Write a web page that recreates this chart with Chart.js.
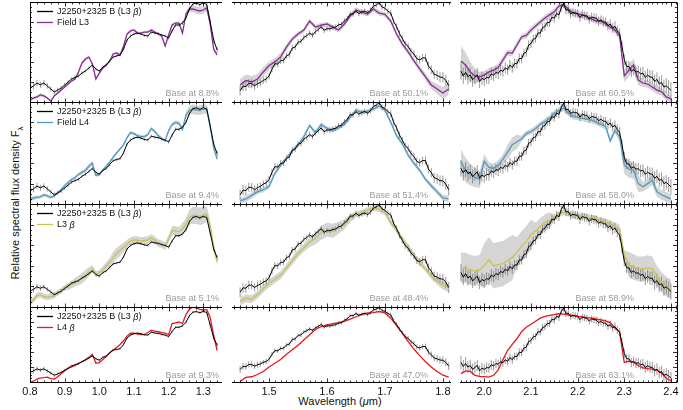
<!DOCTYPE html>
<html><head><meta charset="utf-8">
<script src="https://cdn.jsdelivr.net/npm/chart.js@4.4.1/dist/chart.umd.min.js"></script>
<style>
html,body{margin:0;padding:0;background:#fff;}
#wrap{position:relative;width:683px;height:410px;overflow:hidden;font-family:"Liberation Sans",Arial,sans-serif;}
canvas{position:absolute;}
.lab{position:absolute;white-space:nowrap;font-size:11px;color:#111;line-height:12px;}
</style></head><body>
<div id="wrap">
<div class="lab" style="left:17px;top:203px;transform:translate(-50%,-50%) rotate(-90deg);">Relative spectral flux density F<sub style="font-size:8px;line-height:8px;">λ</sub></div>
<div class="lab" style="left:340px;top:401px;transform:translate(-50%,-50%);">Wavelength (<i>μ</i>m)</div>
</div>
<script>
// ---------------- DATA ----------------
const objLabel = 'J2250+2325 B (L3 β)';
const compLabels = ['Field L3', 'Field L4', 'L3 β', 'L4 β'];

// "Base at" values (bottom of each panel, fraction of peak) per row, for J, H, K
const baseJ = [0.088, 0.094, 0.051, 0.093];
const baseH = [0.501, 0.514, 0.484, 0.470];
const baseK = [0.605, 0.580, 0.589, 0.631];
// top of each panel
const topJ = [1.0, 1.044, 1.12, 1.048];
const topH = [1.0, 1.0, 1.0, 1.0];
const topK = [1.0, 1.0, 1.0, 1.0];
// wavelength ranges of the three columns
const xRangeJ = [0.8, 1.354];
const xRangeH = [1.436, 1.814];
const xRangeK = [1.948, 2.413];

// J band
const waveJ = [0.80,0.81,0.82,0.83,0.84,0.85,0.86,0.87,0.88,0.89,
 0.90,0.91,0.92,0.93,0.94,0.95,0.96,0.97,0.98,0.99,
 1.00,1.01,1.02,1.03,1.04,1.05,1.06,1.07,1.08,1.09,
 1.10,1.11,1.12,1.13,1.14,1.15,1.16,1.17,1.18,1.19,
 1.20,1.21,1.22,1.23,1.24,1.25,1.26,1.27,1.28,1.29,
 1.30,1.31,1.32,1.33,1.34];
const fluxJ = [0.216,0.234,0.261,0.245,0.261,0.234,0.207,0.179,0.197,0.216,
 0.243,0.270,0.298,0.312,0.325,0.352,0.371,0.398,0.425,0.389,
 0.371,0.407,0.425,0.462,0.498,0.508,0.517,0.571,0.653,0.690,
 0.708,0.716,0.708,0.695,0.690,0.726,0.717,0.712,0.699,0.690,
 0.672,0.736,0.790,0.790,0.808,0.854,0.936,0.982,0.990,0.975,
 0.992,0.978,0.818,0.653,0.562];
const errJ = [0.030,0.032,0.030,0.028,0.026,0.024,0.022,0.022,0.020,0.020,
 0.018,0.018,0.016,0.016,0.016,0.015,0.015,0.015,0.015,0.015,
 0.014,0.014,0.014,0.014,0.014,0.014,0.014,0.014,0.014,0.014,
 0.014,0.014,0.014,0.014,0.014,0.014,0.014,0.014,0.014,0.014,
 0.015,0.015,0.016,0.016,0.016,0.018,0.018,0.018,0.018,0.018,
 0.018,0.020,0.022,0.024,0.026];
const fieldL3J = [0.106,0.124,0.134,0.152,0.143,0.124,0.097,0.143,0.170,0.197,
 0.225,0.252,0.280,0.298,0.362,0.444,0.480,0.498,0.435,0.298,
 0.352,0.398,0.425,0.462,0.526,0.535,0.517,0.599,0.708,0.736,
 0.745,0.717,0.717,0.726,0.726,0.745,0.726,0.708,0.690,0.599,
 0.699,0.790,0.808,0.808,0.717,0.891,0.936,0.936,0.927,0.918,
 0.927,0.945,0.799,0.571,0.517];
const fieldL4J = [0.132,0.151,0.156,0.161,0.180,0.170,0.156,0.170,0.199,0.227,
 0.265,0.294,0.322,0.341,0.370,0.389,0.408,0.446,0.474,0.360,
 0.370,0.408,0.446,0.484,0.531,0.569,0.607,0.645,0.712,0.759,
 0.750,0.731,0.721,0.721,0.740,0.797,0.769,0.731,0.702,0.683,
 0.778,0.835,0.854,0.845,0.788,0.921,0.968,0.978,0.968,0.968,
 0.978,0.978,0.816,0.617,0.512];
const l3betaJ = [0.094,0.126,0.169,0.179,0.158,0.153,0.158,0.169,0.201,0.222,
 0.249,0.265,0.286,0.308,0.329,0.350,0.382,0.414,0.447,0.393,
 0.404,0.436,0.479,0.511,0.564,0.607,0.639,0.671,0.703,0.735,
 0.746,0.746,0.735,0.741,0.746,0.767,0.746,0.714,0.703,0.682,
 0.757,0.842,0.842,0.831,0.863,0.906,0.981,1.002,1.002,0.992,
 1.002,1.013,0.885,0.671,0.521];
const l4betaJ = [0.093,0.103,0.131,0.146,0.150,0.155,0.136,0.131,0.160,0.198,
 0.236,0.265,0.284,0.303,0.332,0.351,0.380,0.408,0.446,0.332,
 0.341,0.380,0.418,0.465,0.504,0.532,0.571,0.618,0.676,0.714,
 0.714,0.704,0.695,0.695,0.723,0.752,0.742,0.733,0.723,0.714,
 0.695,0.838,0.847,0.857,0.838,0.953,1.019,1.048,1.038,1.019,
 1.010,1.015,0.914,0.685,0.494];
// half-widths of the grey template ranges
const spreadL3J = [0.015,0.015,0.015,0.015,0.015,0.012,0.012,0.012,0.012,0.012,
 0.012,0.012,0.012,0.012,0.015,0.015,0.015,0.015,0.015,0.012,
 0.012,0.012,0.012,0.012,0.012,0.012,0.012,0.012,0.012,0.012,
 0.012,0.012,0.012,0.012,0.012,0.012,0.012,0.012,0.012,0.015,
 0.015,0.015,0.015,0.015,0.020,0.025,0.030,0.030,0.035,0.035,
 0.035,0.030,0.025,0.020,0.015];
const spreadL4J = [0.020,0.020,0.018,0.015,0.015,0.015,0.015,0.015,0.015,0.015,
 0.015,0.015,0.015,0.015,0.015,0.020,0.020,0.020,0.020,0.015,
 0.015,0.015,0.015,0.015,0.015,0.015,0.015,0.015,0.015,0.015,
 0.015,0.015,0.015,0.015,0.015,0.015,0.015,0.015,0.015,0.015,
 0.015,0.015,0.020,0.020,0.025,0.030,0.040,0.045,0.045,0.045,
 0.045,0.040,0.030,0.020,0.020];
const spreadL3bJ = [0.030,0.030,0.030,0.030,0.030,0.030,0.030,0.030,0.030,0.030,
 0.030,0.035,0.040,0.045,0.050,0.055,0.055,0.050,0.040,0.030,
 0.030,0.035,0.040,0.050,0.060,0.060,0.055,0.050,0.045,0.040,
 0.040,0.040,0.040,0.040,0.040,0.040,0.040,0.040,0.040,0.040,
 0.040,0.050,0.050,0.050,0.060,0.070,0.080,0.090,0.090,0.090,
 0.090,0.080,0.060,0.050,0.040];

// H band
const waveHfine = [1.450,1.455,1.460,1.465,1.470,1.475,1.480,1.485,1.490,1.495,
 1.500,1.505,1.510,1.515,1.520,1.525,1.530,1.535,1.540,1.545,
 1.550,1.555,1.560,1.565,1.570,1.575,1.580,1.585,1.590,1.595,
 1.600,1.605,1.610,1.615,1.620,1.625,1.630,1.635,1.640,1.645,
 1.650,1.655,1.660,1.665,1.670,1.675,1.680,1.685,1.690,1.695,
 1.700,1.705,1.710,1.715,1.720,1.725,1.730,1.735,1.740,1.745,
 1.750,1.755,1.760,1.765,1.770,1.775,1.780,1.785,1.790,1.795,
 1.800,1.805,1.810];
const fluxH = [0.558,0.580,0.578,0.594,0.593,0.582,0.592,0.598,0.609,0.615,
 0.631,0.665,0.692,0.690,0.707,0.709,0.731,0.738,0.770,0.775,
 0.799,0.803,0.823,0.832,0.845,0.835,0.852,0.863,0.877,0.858,
 0.867,0.866,0.872,0.875,0.886,0.889,0.906,0.917,0.940,0.939,
 0.954,0.942,0.950,0.955,0.947,0.959,0.979,0.985,0.997,0.975,
 0.969,0.954,0.945,0.903,0.877,0.843,0.818,0.791,0.779,0.754,
 0.741,0.717,0.711,0.721,0.721,0.681,0.663,0.639,0.634,0.625,
 0.624,0.609,0.582];
const errH = [0.025,0.024,0.023,0.022,0.021,0.020,0.020,0.019,0.018,0.018,
 0.017,0.017,0.016,0.016,0.016,0.015,0.015,0.015,0.015,0.014,
 0.014,0.014,0.014,0.014,0.014,0.013,0.013,0.013,0.013,0.013,
 0.013,0.013,0.013,0.013,0.013,0.013,0.013,0.013,0.013,0.013,
 0.013,0.013,0.013,0.013,0.013,0.013,0.013,0.013,0.014,0.014,
 0.014,0.014,0.015,0.015,0.015,0.016,0.016,0.016,0.017,0.017,
 0.018,0.018,0.019,0.019,0.020,0.021,0.022,0.023,0.024,0.025,
 0.026,0.027,0.028];
const waveH = [1.45,1.46,1.47,1.48,1.49,1.50,1.51,1.52,1.53,1.54,
 1.55,1.56,1.57,1.58,1.59,1.60,1.61,1.62,1.63,1.64,
 1.65,1.66,1.67,1.68,1.69,1.70,1.71,1.72,1.73,1.74,
 1.75,1.76,1.77,1.78,1.79,1.80,1.81];
const fieldL3H = [0.586,0.608,0.601,0.616,0.651,0.683,0.701,0.726,0.775,0.815,
 0.840,0.860,0.905,0.875,0.885,0.890,0.875,0.860,0.890,0.930,
 0.960,0.950,0.940,0.965,0.945,0.938,0.905,0.840,0.790,0.751,
 0.706,0.666,0.626,0.586,0.566,0.546,0.566];
const fieldL4H = [0.529,0.538,0.555,0.572,0.582,0.597,0.660,0.699,0.733,0.767,
 0.796,0.835,0.888,0.854,0.893,0.874,0.864,0.878,0.893,0.927,
 0.961,0.951,0.956,0.966,0.981,0.961,0.903,0.840,0.801,0.747,
 0.708,0.674,0.631,0.601,0.572,0.543,0.538];
const l3betaH = [0.512,0.528,0.523,0.546,0.577,0.603,0.623,0.644,0.680,0.716,
 0.752,0.781,0.809,0.827,0.856,0.871,0.866,0.881,0.897,0.928,
 0.948,0.956,0.969,0.982,0.974,0.959,0.907,0.871,0.825,0.783,
 0.742,0.706,0.675,0.639,0.616,0.592,0.577];
const l4betaH = [0.475,0.502,0.507,0.523,0.544,0.576,0.603,0.629,0.666,0.698,
 0.730,0.767,0.804,0.841,0.862,0.873,0.883,0.889,0.899,0.915,
 0.931,0.947,0.958,0.960,0.968,0.958,0.921,0.868,0.815,0.756,
 0.703,0.656,0.613,0.576,0.544,0.518,0.504];
const spreadL3H = [0.030,0.030,0.030,0.025,0.025,0.020,0.020,0.020,0.015,0.012,
 0.012,0.012,0.012,0.012,0.012,0.012,0.012,0.012,0.012,0.012,
 0.012,0.012,0.012,0.012,0.012,0.012,0.012,0.012,0.012,0.012,
 0.012,0.015,0.018,0.020,0.025,0.030,0.030];
const spreadL4H = [0.015,0.015,0.015,0.012,0.012,0.012,0.010,0.010,0.010,0.010,
 0.010,0.010,0.010,0.010,0.010,0.010,0.010,0.010,0.010,0.010,
 0.010,0.010,0.010,0.010,0.010,0.010,0.010,0.010,0.010,0.010,
 0.010,0.010,0.010,0.012,0.012,0.015,0.015];
const spreadL3bH = [0.020,0.020,0.020,0.020,0.020,0.020,0.020,0.020,0.020,0.020,
 0.020,0.020,0.025,0.030,0.035,0.035,0.035,0.030,0.025,0.020,
 0.015,0.015,0.015,0.015,0.015,0.015,0.015,0.015,0.015,0.015,
 0.015,0.015,0.015,0.015,0.020,0.020,0.020];

// K band
const waveKfine = [1.950,1.955,1.960,1.965,1.970,1.975,1.980,1.985,1.990,1.995,
 2.000,2.005,2.010,2.015,2.020,2.025,2.030,2.035,2.040,2.045,
 2.050,2.055,2.060,2.065,2.070,2.075,2.080,2.085,2.090,2.095,
 2.100,2.105,2.110,2.115,2.120,2.125,2.130,2.135,2.140,2.145,
 2.150,2.155,2.160,2.165,2.170,2.175,2.180,2.185,2.190,2.195,
 2.200,2.205,2.210,2.215,2.220,2.225,2.230,2.235,2.240,2.245,
 2.250,2.255,2.260,2.265,2.270,2.275,2.280,2.285,2.290,2.295,
 2.300,2.305,2.310,2.315,2.320,2.325,2.330,2.335,2.340,2.345,
 2.350,2.355,2.360,2.365,2.370,2.375,2.380,2.385,2.390,2.395,
 2.400];
const fluxK = [0.727,0.708,0.722,0.705,0.712,0.693,0.703,0.712,0.686,0.699,
 0.693,0.702,0.700,0.716,0.710,0.722,0.718,0.731,0.726,0.740,
 0.733,0.751,0.741,0.757,0.756,0.777,0.776,0.798,0.802,0.830,
 0.835,0.853,0.856,0.878,0.877,0.899,0.903,0.919,0.919,0.940,
 0.936,0.955,0.949,0.978,0.995,0.968,0.970,0.953,0.959,0.956,
 0.955,0.938,0.950,0.946,0.945,0.931,0.941,0.938,0.936,0.923,
 0.929,0.921,0.921,0.906,0.913,0.897,0.904,0.887,0.876,0.826,
 0.772,0.746,0.745,0.727,0.733,0.724,0.725,0.716,0.719,0.702,
 0.711,0.704,0.703,0.686,0.694,0.677,0.682,0.664,0.669,0.660,
 0.651];
const errK = [0.034,0.032,0.031,0.030,0.029,0.028,0.028,0.027,0.026,0.026,
 0.025,0.025,0.024,0.024,0.023,0.023,0.022,0.022,0.021,0.021,
 0.020,0.020,0.020,0.019,0.019,0.019,0.018,0.018,0.018,0.018,
 0.017,0.017,0.017,0.017,0.017,0.017,0.017,0.017,0.017,0.017,
 0.017,0.017,0.017,0.017,0.017,0.017,0.017,0.017,0.017,0.017,
 0.017,0.017,0.017,0.017,0.017,0.017,0.017,0.017,0.018,0.018,
 0.018,0.018,0.018,0.019,0.019,0.019,0.020,0.020,0.020,0.021,
 0.021,0.022,0.022,0.023,0.023,0.024,0.024,0.025,0.025,0.026,
 0.026,0.027,0.027,0.028,0.028,0.029,0.029,0.030,0.030,0.031,
 0.032];
const waveK = [1.95,1.96,1.97,1.98,1.99,2.00,2.01,2.02,2.03,2.04,
 2.05,2.06,2.07,2.08,2.09,2.10,2.11,2.12,2.13,2.14,
 2.15,2.16,2.17,2.18,2.19,2.20,2.21,2.22,2.23,2.24,
 2.25,2.26,2.27,2.28,2.29,2.30,2.31,2.32,2.33,2.34,
 2.35,2.36,2.37,2.38,2.39,2.40];
const fieldL3K = [0.767,0.751,0.724,0.708,0.704,0.712,0.724,0.731,0.742,0.771,
 0.800,0.798,0.830,0.862,0.868,0.889,0.905,0.921,0.937,0.949,
 0.961,0.984,0.988,0.972,0.957,0.953,0.949,0.941,0.933,0.925,
 0.925,0.913,0.901,0.889,0.866,0.708,0.731,0.751,0.692,0.680,
 0.676,0.664,0.652,0.645,0.625,0.617];
const fieldL4K = [0.756,0.719,0.702,0.689,0.681,0.756,0.731,0.727,0.740,0.765,
 0.794,0.824,0.836,0.849,0.870,0.878,0.891,0.908,0.920,0.933,
 0.954,0.966,0.975,0.954,0.941,0.937,0.933,0.929,0.924,0.916,
 0.908,0.899,0.840,0.882,0.857,0.740,0.723,0.719,0.664,0.651,
 0.664,0.677,0.630,0.618,0.609,0.601];
const l3betaK = [0.745,0.745,0.737,0.733,0.737,0.753,0.778,0.753,0.758,0.762,
 0.774,0.786,0.807,0.831,0.852,0.877,0.893,0.910,0.926,0.934,
 0.947,0.959,0.967,0.963,0.955,0.953,0.951,0.947,0.945,0.940,
 0.934,0.930,0.922,0.914,0.897,0.795,0.758,0.749,0.741,0.741,
 0.745,0.741,0.712,0.688,0.671,0.659];
const l4betaK = [0.672,0.686,0.683,0.664,0.659,0.657,0.655,0.664,0.690,0.742,
 0.786,0.816,0.845,0.878,0.900,0.915,0.930,0.945,0.954,0.959,
 0.963,0.967,0.965,0.961,0.958,0.954,0.952,0.948,0.945,0.941,
 0.937,0.932,0.923,0.897,0.878,0.727,0.734,0.727,0.712,0.701,
 0.697,0.694,0.690,0.675,0.649,0.637];
const spreadL3K = [0.060,0.050,0.040,0.030,0.020,0.015,0.015,0.015,0.015,0.015,
 0.012,0.012,0.012,0.012,0.012,0.012,0.012,0.012,0.012,0.012,
 0.012,0.012,0.012,0.012,0.012,0.012,0.012,0.012,0.012,0.012,
 0.012,0.012,0.012,0.012,0.015,0.025,0.025,0.025,0.020,0.015,
 0.015,0.015,0.015,0.015,0.015,0.015];
const spreadL4K = [0.050,0.050,0.045,0.040,0.035,0.030,0.020,0.020,0.020,0.020,
 0.030,0.030,0.030,0.012,0.012,0.012,0.012,0.012,0.012,0.012,
 0.012,0.012,0.012,0.012,0.012,0.012,0.012,0.012,0.012,0.012,
 0.012,0.012,0.012,0.012,0.020,0.035,0.035,0.035,0.035,0.020,
 0.020,0.020,0.020,0.020,0.020,0.020];
const spreadL3bK = [0.060,0.060,0.060,0.060,0.060,0.090,0.090,0.090,0.090,0.090,
 0.090,0.090,0.060,0.060,0.060,0.060,0.033,0.033,0.033,0.033,
 0.012,0.012,0.012,0.012,0.012,0.012,0.012,0.012,0.012,0.012,
 0.012,0.012,0.012,0.012,0.020,0.020,0.050,0.050,0.050,0.050,
 0.050,0.050,0.040,0.040,0.040,0.040];

// ---------------- LAYOUT / STYLE ----------------
const COLX = [[30,222],[232,451],[460,677]];
const ROWY = [[2,102],[102,204],[204,307],[307,382]];
const BASE_RIGHT = [3,23,43];
const BASE_BOTTOM = [6,6.5,6.3,4];
const COMP_COLORS = ['#8c2a96','#4b9cc6','#c9c24c','#e8161e'];
const FONT = '"Liberation Sans", Arial, sans-serif';
Chart.defaults.font.family = FONT;

const columns = [
  {wave: waveJ, flux: fluxJ, err: errJ, cwave: waveJ, comps: [fieldL3J, fieldL4J, l3betaJ, l4betaJ],
   spreads: [spreadL3J, spreadL4J, spreadL3bJ], base: baseJ, top: topJ, range: xRangeJ, minor: 0.02},
  {wave: waveHfine, flux: fluxH, err: errH, cwave: waveH, comps: [fieldL3H, fieldL4H, l3betaH, l4betaH],
   spreads: [spreadL3H, spreadL4H, spreadL3bH], base: baseH, top: topH, range: xRangeH, minor: 0.01},
  {wave: waveKfine, flux: fluxK, err: errK, cwave: waveK, comps: [fieldL3K, fieldL4K, l3betaK, l4betaK],
   spreads: [spreadL3K, spreadL4K, spreadL3bK], base: baseK, top: topK, range: xRangeK, minor: 0.01}
];

function makeTicks(min, max, step) {
  const out = [];
  const k0 = Math.ceil(min / step - 1e-9), k1 = Math.floor(max / step + 1e-9);
  for (let k = k0; k <= k1; k++) {
    const v = +(k * step).toFixed(4);
    out.push({value: v, isMajor: Math.abs(v * 10 - Math.round(v * 10)) < 1e-6});
  }
  return out;
}

function drawRich(ctx, text, x, y, size) {
  const parts = text.split('β');
  parts.forEach((s, i) => {
    ctx.font = size + 'px ' + FONT;
    ctx.fillText(s, x, y);
    x += ctx.measureText(s).width;
    if (i < parts.length - 1) {
      ctx.font = 'italic ' + size + 'px ' + FONT;
      ctx.fillText('β', x, y);
      x += ctx.measureText('β').width;
    }
  });
}

function makeDecor(p) {
  return {
    id: 'decor',
    beforeDatasetDraw(chart, args) {
      if (args.index !== 1) return;
      const {ctx, chartArea: a} = chart;
      const xs = chart.scales.x, ys = chart.scales.y;
      ctx.save();
      ctx.beginPath();
      ctx.rect(a.left, a.top, a.right - a.left, a.bottom - a.top);
      ctx.clip();
      ctx.strokeStyle = 'rgba(105,105,105,0.85)';
      ctx.lineWidth = 0.8;
      ctx.beginPath();
      p.col.wave.forEach((w, i) => {
        const px = xs.getPixelForValue(w);
        ctx.moveTo(px, ys.getPixelForValue(p.col.flux[i] - p.col.err[i]));
        ctx.lineTo(px, ys.getPixelForValue(p.col.flux[i] + p.col.err[i]));
      });
      ctx.stroke();
      ctx.restore();
    },
    afterDraw(chart) {
      const {ctx, chartArea: a} = chart;
      const xs = chart.scales.x, ys = chart.scales.y;
      const L = a.left, R = a.right;
      const T = Math.round(a.top) + 0.5, B = Math.round(a.bottom) + 0.5;
      ctx.save();
      ctx.strokeStyle = '#000';
      ctx.lineWidth = 1;
      ctx.beginPath();
      ctx.moveTo(L, T); ctx.lineTo(R, T);
      ctx.moveTo(L, B); ctx.lineTo(R, B);
      if (p.c === 0) { ctx.moveTo(Math.round(L) + 0.5, T); ctx.lineTo(Math.round(L) + 0.5, B); }
      if (p.c === 2) { ctx.moveTo(Math.round(R) + 0.5, T); ctx.lineTo(Math.round(R) + 0.5, B); }
      ctx.stroke();
      ctx.lineWidth = 0.8;
      ctx.beginPath();
      xs.ticks.forEach(t => {
        const px = Math.round(xs.getPixelForValue(t.value)) + 0.5;
        const len = t.isMajor ? 4 : 2;
        ctx.moveTo(px, T); ctx.lineTo(px, T + len);
        ctx.moveTo(px, B); ctx.lineTo(px, B - len);
      });
      if (p.c !== 1) {
        ys.ticks.forEach(t => {
          const py = Math.round(ys.getPixelForValue(t.value)) + 0.5;
          const len = t.isMajor ? 4 : 2;
          if (p.c === 0) { ctx.moveTo(L, py); ctx.lineTo(L + len, py); }
          else { ctx.moveTo(R, py); ctx.lineTo(R - len, py); }
        });
      }
      ctx.stroke();
      // Base label
      ctx.fillStyle = '#9b9b9b';
      ctx.font = '9px ' + FONT;
      ctx.textAlign = 'right';
      ctx.textBaseline = 'alphabetic';
      ctx.fillText('Base at ' + (p.col.base[p.r] * 100).toFixed(1) + '%', a.right - BASE_RIGHT[p.c], a.bottom - BASE_BOTTOM[p.r]);
      // legend
      if (p.c === 0) {
        ctx.textAlign = 'left';
        ctx.textBaseline = 'middle';
        ctx.fillStyle = '#111';
        const rows = [[objLabel, '#000'], [compLabels[p.r], COMP_COLORS[p.r]]];
        rows.forEach((it, k) => {
          const yy = a.top + 9.5 + k * 11;
          ctx.strokeStyle = it[1];
          ctx.lineWidth = 1.3;
          ctx.beginPath(); ctx.moveTo(L + 7, yy); ctx.lineTo(L + 23, yy); ctx.stroke();
          drawRich(ctx, it[0], L + 27, yy + 0.5, 9);
        });
      }
      ctx.restore();
    }
  };
}

const wrap = document.getElementById('wrap');
for (let r = 0; r < 4; r++) {
  for (let c = 0; c < 3; c++) {
    const col = columns[c];
    const [L, R] = COLX[c], [T, B] = ROWY[r];
    const last = r === 3;
    const padL = 16, padR = 16, padT = 4, padB = last ? 0 : 4, axisH = last ? 22 : 0;
    const w = R - L + padL + padR, h = B - T + padT + padB + axisH;
    const cv = document.createElement('canvas');
    cv.width = w; cv.height = h;
    cv.style.left = (L - padL) + 'px'; cv.style.top = (T - padT) + 'px';
    cv.style.width = w + 'px'; cv.style.height = h + 'px';
    wrap.appendChild(cv);

    const comp = col.comps[r];
    const datasets = [
      {label: objLabel, data: col.wave.map((x, i) => ({x, y: col.flux[i]})),
       borderColor: '#000', borderWidth: 1, pointRadius: 0, fill: false},
      {label: compLabels[r], data: col.cwave.map((x, i) => ({x, y: comp[i]})),
       borderColor: COMP_COLORS[r], borderWidth: 1.3, pointRadius: 0, fill: false}
    ];
    if (r < 3) {
      const sp = col.spreads[r];
      datasets.push({label: 'range hi', data: col.cwave.map((x, i) => ({x, y: comp[i] + sp[i]})),
        borderColor: 'rgba(0,0,0,0)', borderWidth: 0, backgroundColor: '#d5d5d5', pointRadius: 0, fill: '+1'});
      datasets.push({label: 'range lo', data: col.cwave.map((x, i) => ({x, y: comp[i] - sp[i]})),
        borderColor: 'rgba(0,0,0,0)', borderWidth: 0, pointRadius: 0, fill: false});
    }

    new Chart(cv, {
      type: 'line',
      data: {datasets},
      options: {
        responsive: false, animation: false, events: [],
        layout: {padding: {left: padL, right: padR, top: padT, bottom: padB}},
        plugins: {legend: {display: false}, tooltip: {enabled: false}},
        elements: {line: {tension: 0}},
        scales: {
          x: {type: 'linear', min: col.range[0], max: col.range[1],
              grid: {display: false, drawTicks: false, tickLength: 0}, border: {display: false},
              ticks: {display: last, autoSkip: false, maxRotation: 0, minRotation: 0, padding: 3,
                      color: '#111', font: {size: 11},
                      callback: (v, i, t) => t[i].isMajor ? Number(v).toFixed(1) : ''},
              afterBuildTicks: s => { s.ticks = makeTicks(s.min, s.max, col.minor); },
              afterFit: s => { s.height = axisH; }},
          y: {type: 'linear', min: col.base[r], max: col.top[r],
              grid: {display: false, drawTicks: false, tickLength: 0}, border: {display: false}, ticks: {display: false},
              afterBuildTicks: s => {
                const out = [];
                for (let k = 0; k <= 20; k++) out.push({value: s.min + (s.max - s.min) * k / 20, isMajor: k % 4 === 0});
                s.ticks = out;
              },
              afterFit: s => { s.width = 0; }}
        }
      },
      plugins: [makeDecor({r, c, col})]
    });
  }
}
</script>
</body></html>
